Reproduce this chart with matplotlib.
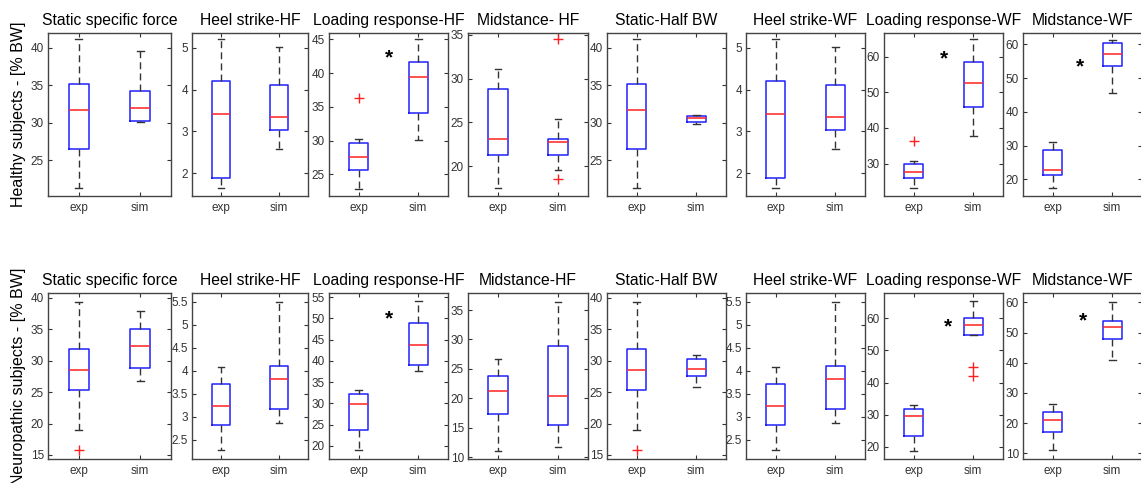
import matplotlib
matplotlib.use("Agg")
import matplotlib.pyplot as plt
from matplotlib.ticker import MultipleLocator, FormatStrFormatter

plt.rcParams['font.family'] = ['Liberation Sans', 'DejaVu Sans']

# --- data ---
titles_top = ['Static specific force', 'Heel strike-HF', 'Loading response-HF', 'Midstance- HF',
              'Static-Half BW', 'Heel strike-WF', 'Loading response-WF', 'Midstance-WF']
titles_bot = ['Static specific force', 'Heel strike-HF', 'Loading response-HF', 'Midstance-HF',
              'Static-Half BW', 'Heel strike-WF', 'Loading response-WF', 'Midstance-WF']
groups = ['exp', 'sim']

# Healthy subjects: whisker low, q1, median, q3, whisker high
h_exp_lo  = [21.3, 1.65, 22.9, 17.5, 21.3, 1.65, 23.1, 17.3]
h_exp_q1  = [26.5, 1.90, 25.6, 21.3, 26.5, 1.90, 25.9, 21.2]
h_exp_med = [31.7, 3.42, 27.5, 23.1, 31.7, 3.42, 27.7, 22.9]
h_exp_q3  = [35.2, 4.21, 29.6, 28.8, 35.2, 4.21, 29.8, 28.8]
h_exp_hi  = [41.1, 5.20, 30.2, 31.1, 41.1, 5.20, 30.6, 31.0]
h_exp_out = [[], [], [36.3], [], [], [], [36.3], []]

h_sim_lo  = [30.05, 2.57, 30.1, 19.5, 29.9, 2.57, 37.6, 45.7]
h_sim_q1  = [30.3, 3.04, 34.1, 21.3, 30.06, 3.04, 45.9, 53.7]
h_sim_med = [32.0, 3.34, 39.4, 22.7, 30.6, 3.34, 52.5, 57.1]
h_sim_q3  = [34.2, 4.12, 41.6, 23.1, 30.87, 4.12, 58.4, 60.4]
h_sim_hi  = [39.5, 5.01, 45.0, 25.4, 31.0, 5.01, 64.8, 61.4]
h_sim_out = [[], [], [], [34.5, 18.5], [], [], [], []]

h_star = [None, None, (1.5, 42.3), None, None, None, (1.5, 59.3), (1.45, 53.4)]

# Neuropathic subjects
n_exp_lo  = [19.0, 2.27, 19.0, 11.1, 19.0, 2.27, 18.8, 11.0]
n_exp_q1  = [25.4, 2.81, 23.7, 17.3, 25.4, 2.81, 23.5, 16.95]
n_exp_med = [28.5, 3.24, 29.8, 21.2, 28.5, 3.24, 29.6, 20.9]
n_exp_q3  = [31.84, 3.72, 32.2, 23.7, 31.84, 3.72, 31.8, 23.6]
n_exp_hi  = [39.36, 4.09, 33.2, 26.6, 39.36, 4.09, 33.0, 26.2]
n_exp_out = [[15.8], [], [], [], [15.8], [], [], []]

n_sim_lo  = [26.75, 2.86, 37.6, 11.65, 25.8, 2.86, 54.7, 40.9]
n_sim_q1  = [28.8, 3.16, 39.0, 15.4, 27.55, 3.16, 54.7, 47.75]
n_sim_med = [32.37, 3.82, 43.8, 20.4, 28.67, 3.82, 57.9, 52.0]
n_sim_q3  = [35.0, 4.11, 48.9, 28.9, 30.3, 4.11, 60.2, 53.7]
n_sim_hi  = [37.9, 5.50, 54.1, 36.4, 30.9, 5.50, 65.4, 60.2]
n_sim_out = [[], [], [], [], [], [], [45.0, 42.1], []]

n_star = [None, None, (1.5, 49.8), None, None, None, (1.58, 57.4), (1.51, 53.9)]

# axis ranges and tick steps
h_ylim = [(20.25, 41.95), (1.46, 5.35), (21.8, 45.93), (16.58, 35.2),
          (20.25, 41.95), (1.46, 5.35), (20.9, 66.6), (15.06, 63.35)]
h_step = [5, 1, 5, 5, 5, 1, 10, 10]
n_ylim = [(14.36, 40.75), (2.08, 5.69), (16.9, 56.0), (9.66, 37.9),
          (14.36, 40.75), (2.08, 5.69), (16.2, 67.9), (8.1, 63.1)]
n_step = [5, 0.5, 5, 5, 5, 0.5, 10, 10]

# --- layout in pixels ---
W, H = 1141, 483
lefts = [48, 192, 329, 468, 607, 746, 884, 1023]
rights = [171, 308, 448, 588, 726, 865, 1003, 1142]
rows = [(33, 196), (293, 459)]

fig = plt.figure(figsize=(W / 100, H / 100), dpi=100)


def make_stats(lo, q1, med, q3, hi, out, i):
    return dict(whislo=lo[i], q1=q1[i], med=med[i], q3=q3[i], whishi=hi[i],
                fliers=out[i], label='')


def draw_row(r, titles, exp, sim, stars, ylims, steps, ylabel):
    top, bot = rows[r]
    for i in range(8):
        ax = fig.add_axes([lefts[i] / W, (H - bot) / H,
                           (rights[i] - lefts[i]) / W, (bot - top) / H])
        stats = [make_stats(*exp, i), make_stats(*sim, i)]
        ax.bxp(stats, positions=[1, 2], widths=0.32, capwidths=0.11,
               boxprops=dict(color='#2020ff', linewidth=1.1),
               medianprops=dict(color='#ff2020', linewidth=1.1),
               whiskerprops=dict(color='#333333', linewidth=1.0, linestyle=(0, (5, 3))),
               capprops=dict(color='#333333', linewidth=1.0),
               flierprops=dict(marker='+', markeredgecolor='#ff2020', markersize=7,
                               markeredgewidth=1.0))
        if stars[i] is not None:
            ax.text(stars[i][0], stars[i][1], '*', fontsize=15, ha='center', va='center',
                    color='black', fontweight='bold')
        ax.set_xlim(0.5, 2.5)
        ax.set_ylim(*ylims[i])
        ax.yaxis.set_major_locator(MultipleLocator(steps[i]))
        ax.yaxis.set_major_formatter(FormatStrFormatter('%g'))
        ax.set_xticks([1, 2])
        ax.set_xticklabels(groups)
        ax.tick_params(direction='in', right=True, top=True, length=3, width=0.8,
                       labelsize=8.5, colors='#333333', pad=3)
        ax.tick_params(axis='x', pad=4)
        for s in ax.spines.values():
            s.set_color('#444444')
            s.set_linewidth(1.0)
        ax.set_title(titles[i], fontsize=11.3, pad=6)
        if i == 0:
            ax.set_ylabel(ylabel, fontsize=11.5, labelpad=3)


draw_row(0, titles_top,
         (h_exp_lo, h_exp_q1, h_exp_med, h_exp_q3, h_exp_hi, h_exp_out),
         (h_sim_lo, h_sim_q1, h_sim_med, h_sim_q3, h_sim_hi, h_sim_out),
         h_star, h_ylim, h_step, 'Healthy subjects - [% BW]')
draw_row(1, titles_bot,
         (n_exp_lo, n_exp_q1, n_exp_med, n_exp_q3, n_exp_hi, n_exp_out),
         (n_sim_lo, n_sim_q1, n_sim_med, n_sim_q3, n_sim_hi, n_sim_out),
         n_star, n_ylim, n_step, 'Neuropathic subjects - [% BW]')

fig.savefig('out.png', dpi=100)
